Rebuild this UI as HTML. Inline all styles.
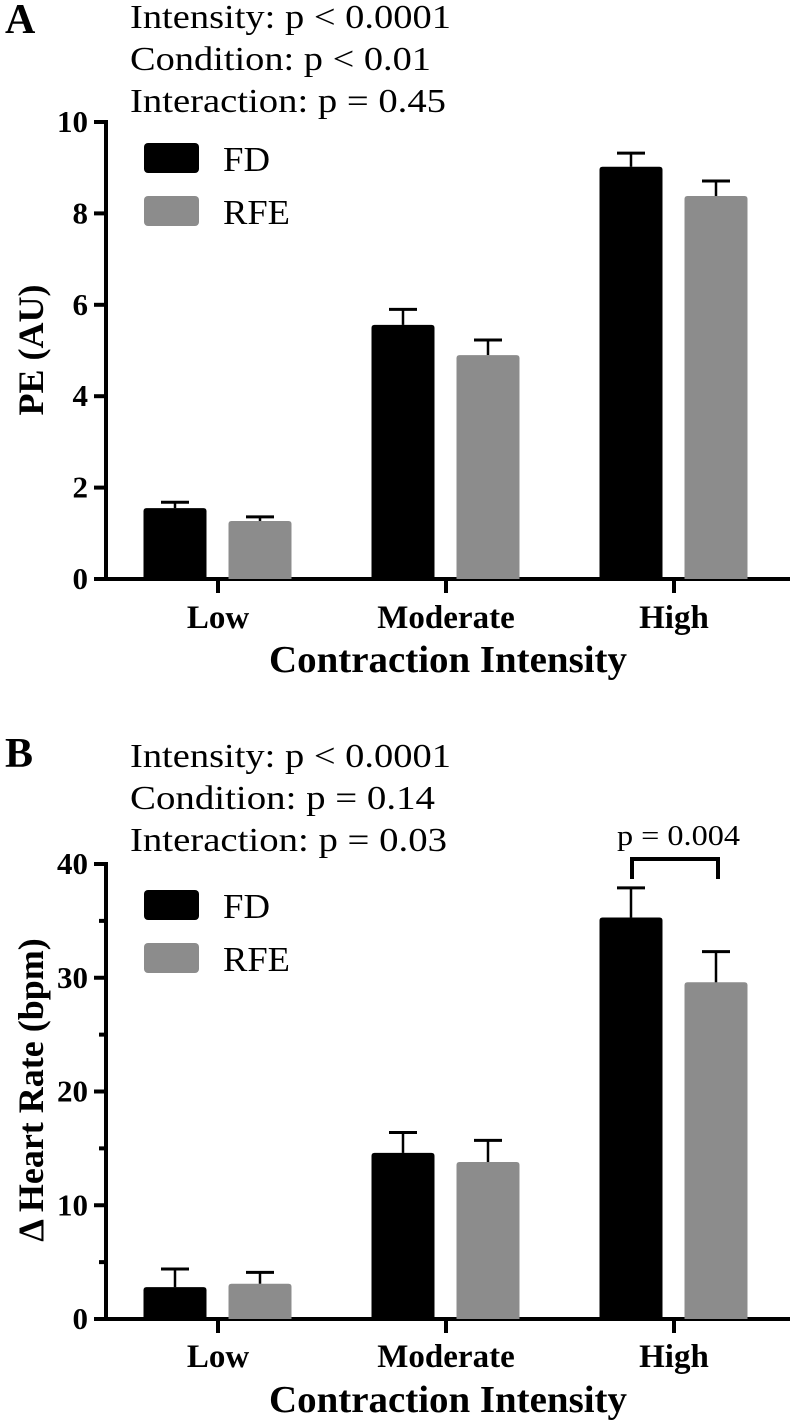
<!DOCTYPE html>
<html><head><meta charset="utf-8"><style>
html,body{margin:0;padding:0;background:#fff;}
svg{display:block;font-family:"Liberation Serif",serif;}
</style></head><body>
<svg id="fig" width="790" height="1421" viewBox="0 0 790 1421"></svg>
<script>
const categories = ["Low","Moderate","High"];
const seriesNames = ["FD","RFE"];
const peFD = [1.55, 5.56, 9.02];
const peFDErr = [0.13, 0.34, 0.30];
const peRFE = [1.27, 4.9, 8.38];
const peRFEErr = [0.09, 0.33, 0.33];
const hrFD = [2.8, 14.6, 35.3];
const hrFDErr = [1.6, 1.8, 2.6];
const hrRFE = [3.1, 13.8, 29.6];
const hrRFEErr = [1.0, 1.9, 2.7];
const peTicks = [0,2,4,6,8,10];
const hrTicks = [0,10,20,30,40];
const hrMinor = [5,15,25,35];
const statsA = ["Intensity: p < 0.0001","Condition: p < 0.01","Interaction: p = 0.45"];
const statsB = ["Intensity: p < 0.0001","Condition: p = 0.14","Interaction: p = 0.03"];
const statLenA = [321,301,316];
const statLenB = [321,305,317];

const NS="http://www.w3.org/2000/svg";
const svg=document.getElementById('fig');
function mk(tag,attrs,parent,text){const e=document.createElementNS(NS,tag);for(const k in attrs)e.setAttribute(k,attrs[k]);if(text!==undefined)e.textContent=text;(parent||svg).appendChild(e);return e;}
const colors=["#000","#8c8c8c"];
const catX=[218,446,674];
const legLen=[47,67];
function panel(o){
  const g=mk('g',{});
  
  
  const y=v=>o.y0-(v/o.max)*(o.y0-o.yTop);
  let t=mk('text',{x:5,y:o.letterY,'font-size':42,'font-weight':'bold'},g,o.letter);
  
  
  o.stats.forEach((s,i)=>{
    const st=mk('text',{x:130,y:o.statY+i*42,'font-size':34,textLength:o.statLen[i],lengthAdjust:'spacingAndGlyphs'},g,s);
    
    
  });
  const ya=mk('line',{x1:106,y1:o.yTop-2,x2:106,y2:o.y0+2,stroke:'#000','stroke-width':4},g);
  
  
  const xa=mk('line',{x1:104,y1:o.y0,x2:790,y2:o.y0,stroke:'#000','stroke-width':4},g);
  
  
  o.ticks.forEach(v=>{
    mk('line',{x1:94,y1:y(v),x2:106,y2:y(v),stroke:'#000','stroke-width':4},g);
    const tl=mk('text',{x:88,y:y(v)+10,'font-size':31,'font-weight':'bold','text-anchor':'end'},g,v);
    
    
  });
  (o.minor||[]).forEach(v=>{mk('line',{x1:99,y1:y(v),x2:106,y2:y(v),stroke:'#000','stroke-width':4},g);});
  categories.forEach((c,i)=>{
    mk('line',{x1:catX[i],y1:o.y0,x2:catX[i],y2:o.y0+14,stroke:'#000','stroke-width':4},g);
    const cl=mk('text',{x:catX[i],y:o.catY,'font-size':33,'font-weight':'bold','text-anchor':'middle'},g,c);
    
    
  });
  const xt=mk('text',{x:448,y:o.titleY,'font-size':38,'font-weight':'bold','text-anchor':'middle',textLength:358,lengthAdjust:'spacingAndGlyphs'},g,'Contraction Intensity');
  
  
  const yt=mk('text',{x:0,y:0,'font-size':36,'font-weight':'bold','text-anchor':'middle',transform:`translate(43,${o.yTitleC}) rotate(-90)`},g,o.yTitle);
  
  
  [o.fd,o.rfe].forEach((vals,s)=>{
    vals.forEach((v,i)=>{
      const cx=catX[i]+(s===0?-43:42);
      const top=y(v), et=y(v+o.errs[s][i]);
      const r=mk('path',{d:`M${cx-31.5},${o.y0} V${top+3} Q${cx-31.5},${top} ${cx-28.5},${top} H${cx+28.5} Q${cx+31.5},${top} ${cx+31.5},${top+3} V${o.y0} Z`,fill:colors[s]},g);
      
      
      const e1=mk('line',{x1:cx,y1:top,x2:cx,y2:et,stroke:'#000','stroke-width':2.5},g);
      
      
      mk('line',{x1:cx-14,y1:et,x2:cx+14,y2:et,stroke:'#000','stroke-width':3},g);
    });
  });
  seriesNames.forEach((n,s)=>{
    const ly=o.legY+s*53;
    const sw=mk('rect',{x:144,y:ly,width:55,height:30,rx:4,fill:colors[s]},g);
    
    
    const lt=mk('text',{x:223,y:ly+28,'font-size':35,textLength:legLen[s],lengthAdjust:'spacingAndGlyphs'},g,n);
    
    
  });
  return g;
}
panel({name:'panel-a',letter:'A',letterY:33,stats:statsA,statLen:statLenA,statY:28,y0:579,yTop:122,max:10,ticks:peTicks,minor:[],
  catY:628,titleY:672,yTitle:'PE (AU)',yTitleC:350,fd:peFD,rfe:peRFE,errs:[peFDErr,peRFEErr],legY:143});
const gb=panel({name:'panel-b',letter:'B',letterY:767,stats:statsB,statLen:statLenB,statY:767,y0:1319,yTop:864,max:40,ticks:hrTicks,minor:hrMinor,
  catY:1367,titleY:1412,yTitle:'\u0394 Heart Rate (bpm)',yTitleC:1090,fd:hrFD,rfe:hrRFE,errs:[hrFDErr,hrRFEErr],legY:890});
const br=mk('path',{d:'M632,879 V859 H718 V879',fill:'none',stroke:'#000','stroke-width':4},gb);


const pt=mk('text',{x:617,y:845,'font-size':28,textLength:123,lengthAdjust:'spacingAndGlyphs'},gb,'p = 0.004');


</script>
</body></html>
